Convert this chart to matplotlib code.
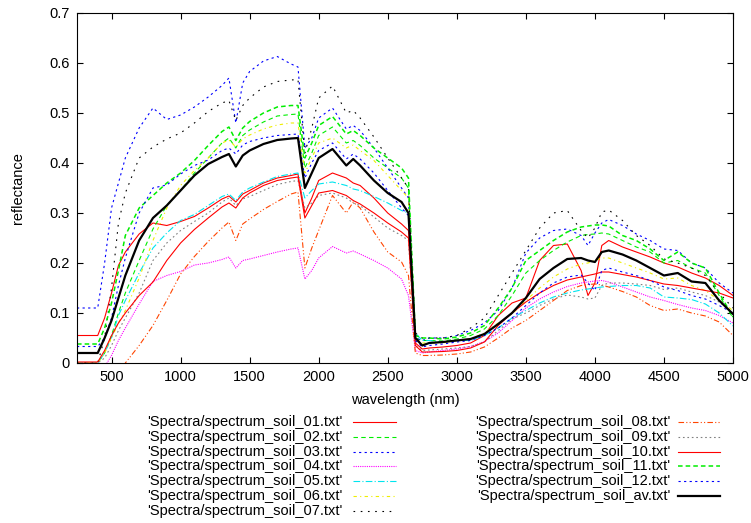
import matplotlib
matplotlib.use("Agg")
import matplotlib.pyplot as plt
from matplotlib.lines import Line2D

plt.rcParams['font.family'] = ['Liberation Sans', 'DejaVu Sans']

wavelength = [250, 400, 450, 500, 550, 600, 700, 800, 900, 1000, 1100, 1200, 1300, 1350, 1400,
              1450, 1500, 1600, 1700, 1800, 1850, 1900, 1950, 2000, 2100, 2200, 2250, 2300, 2400,
              2500, 2600, 2650, 2700, 2750, 2800, 2900, 3000, 3100, 3200, 3300, 3400, 3500, 3600,
              3700, 3800, 3900, 3950, 4000, 4050, 4100, 4200, 4300, 4400, 4500, 4600, 4700, 4800,
              4900, 5000]

soil_01 = [0.055, 0.055, 0.09, 0.14, 0.195, 0.222, 0.258, 0.28, 0.275, 0.283, 0.293, 0.31, 0.328, 0.334, 0.322,
           0.338, 0.345, 0.36, 0.37, 0.375, 0.378, 0.30, 0.33, 0.365, 0.38, 0.37, 0.36, 0.355, 0.33,
           0.30, 0.278, 0.265, 0.04, 0.028, 0.03, 0.032, 0.035, 0.04, 0.055, 0.095, 0.12, 0.13, 0.205,
           0.235, 0.238, 0.185, 0.135, 0.16, 0.235, 0.245, 0.232, 0.222, 0.212, 0.20, 0.192, 0.18, 0.17,
           0.155, 0.135]
soil_02 = [0.0, 0.0, 0.02, 0.055, 0.10, 0.14, 0.205, 0.268, 0.315, 0.345, 0.38, 0.41, 0.44, 0.45, 0.43,
           0.455, 0.466, 0.482, 0.494, 0.497, 0.498, 0.39, 0.42, 0.455, 0.472, 0.44, 0.445, 0.435, 0.41,
           0.39, 0.37, 0.35, 0.05, 0.045, 0.045, 0.044, 0.048, 0.055, 0.068, 0.095, 0.135, 0.18, 0.205,
           0.225, 0.242, 0.255, 0.257, 0.258, 0.26, 0.258, 0.245, 0.232, 0.222, 0.20, 0.205, 0.19, 0.18,
           0.135, 0.09]
soil_03 = [0.11, 0.11, 0.20, 0.31, 0.36, 0.41, 0.47, 0.51, 0.487, 0.496, 0.512, 0.532, 0.555, 0.57, 0.48,
           0.56, 0.583, 0.604, 0.613, 0.598, 0.592, 0.43, 0.45, 0.49, 0.51, 0.468, 0.475, 0.465, 0.43,
           0.39, 0.35, 0.33, 0.05, 0.045, 0.05, 0.05, 0.055, 0.065, 0.08, 0.105, 0.15, 0.22, 0.25,
           0.265, 0.268, 0.255, 0.235, 0.26, 0.28, 0.287, 0.275, 0.258, 0.245, 0.228, 0.225, 0.20, 0.19,
           0.16, 0.14]
soil_04 = [-0.03, -0.03, -0.008, 0.015, 0.045, 0.07, 0.118, 0.163, 0.175, 0.183, 0.196, 0.20, 0.207, 0.212, 0.19,
           0.205, 0.208, 0.215, 0.222, 0.228, 0.23, 0.168, 0.185, 0.21, 0.233, 0.22, 0.224, 0.218, 0.205,
           0.19, 0.168, 0.135, 0.025, 0.02, 0.022, 0.025, 0.028, 0.033, 0.043, 0.06, 0.085, 0.11, 0.128,
           0.142, 0.153, 0.16, 0.162, 0.164, 0.165, 0.162, 0.152, 0.142, 0.132, 0.125, 0.117, 0.11, 0.105,
           0.095, 0.08]
soil_05 = [0.0, 0.0, 0.02, 0.05, 0.095, 0.125, 0.18, 0.23, 0.26, 0.285, 0.297, 0.315, 0.333, 0.338, 0.325,
           0.342, 0.35, 0.362, 0.373, 0.378, 0.38, 0.33, 0.345, 0.358, 0.362, 0.355, 0.348, 0.345, 0.333,
           0.32, 0.305, 0.30, 0.06, 0.045, 0.045, 0.042, 0.045, 0.045, 0.055, 0.07, 0.09, 0.105, 0.12,
           0.132, 0.14, 0.146, 0.148, 0.15, 0.152, 0.153, 0.155, 0.155, 0.15, 0.132, 0.13, 0.127, 0.118,
           0.10, 0.074]
soil_06 = [0.0, 0.0, 0.02, 0.05, 0.08, 0.105, 0.17, 0.245, 0.31, 0.355, 0.385, 0.41, 0.44, 0.446, 0.432,
           0.448, 0.456, 0.468, 0.476, 0.48, 0.48, 0.38, 0.41, 0.44, 0.45, 0.43, 0.436, 0.425, 0.405,
           0.375, 0.345, 0.33, 0.05, 0.04, 0.04, 0.04, 0.045, 0.048, 0.06, 0.08, 0.098, 0.125, 0.15,
           0.172, 0.188, 0.198, 0.20, 0.205, 0.21, 0.21, 0.20, 0.19, 0.18, 0.168, 0.17, 0.155, 0.145,
           0.125, 0.105]
soil_07 = [0.0, 0.0, 0.05, 0.15, 0.28, 0.34, 0.41, 0.432, 0.448, 0.46, 0.48, 0.503, 0.52, 0.525, 0.485,
           0.515, 0.53, 0.552, 0.563, 0.566, 0.567, 0.42, 0.47, 0.53, 0.554, 0.50, 0.505, 0.49, 0.452,
           0.41, 0.37, 0.35, 0.06, 0.05, 0.05, 0.05, 0.055, 0.07, 0.09, 0.135, 0.18, 0.225, 0.27,
           0.30, 0.305, 0.265, 0.25, 0.27, 0.302, 0.306, 0.285, 0.255, 0.235, 0.208, 0.20, 0.19, 0.175,
           0.14, 0.11]
soil_08 = [-0.06, -0.06, -0.045, -0.03, -0.015, 0.0, 0.035, 0.075, 0.125, 0.178, 0.213, 0.243, 0.27, 0.282, 0.245,
           0.278, 0.288, 0.307, 0.323, 0.338, 0.342, 0.19, 0.23, 0.265, 0.335, 0.30, 0.322, 0.31, 0.262,
           0.222, 0.202, 0.175, 0.02, 0.015, 0.015, 0.016, 0.018, 0.022, 0.032, 0.05, 0.07, 0.085, 0.105,
           0.125, 0.145, 0.155, 0.157, 0.158, 0.156, 0.152, 0.143, 0.132, 0.115, 0.105, 0.108, 0.10, 0.094,
           0.082, 0.055]
soil_09 = [0.0, 0.0, 0.01, 0.035, 0.065, 0.09, 0.14, 0.205, 0.24, 0.265, 0.283, 0.30, 0.322, 0.33, 0.315,
           0.328, 0.333, 0.345, 0.357, 0.363, 0.365, 0.31, 0.32, 0.335, 0.34, 0.33, 0.32, 0.315, 0.292,
           0.27, 0.255, 0.245, 0.035, 0.025, 0.026, 0.028, 0.03, 0.033, 0.042, 0.065, 0.088, 0.10, 0.115,
           0.128, 0.136, 0.132, 0.128, 0.13, 0.155, 0.16, 0.16, 0.158, 0.155, 0.147, 0.15, 0.142, 0.135,
           0.122, 0.10]
soil_10 = [0.002, 0.002, 0.025, 0.055, 0.08, 0.10, 0.135, 0.162, 0.205, 0.24, 0.267, 0.29, 0.312, 0.32, 0.31,
           0.33, 0.34, 0.355, 0.365, 0.37, 0.372, 0.29, 0.315, 0.34, 0.345, 0.335, 0.325, 0.318, 0.30,
           0.28, 0.262, 0.25, 0.035, 0.022, 0.022, 0.023, 0.025, 0.03, 0.042, 0.075, 0.10, 0.122, 0.14,
           0.155, 0.166, 0.172, 0.175, 0.178, 0.182, 0.182, 0.177, 0.172, 0.165, 0.158, 0.155, 0.15, 0.145,
           0.14, 0.13]
soil_11 = [0.038, 0.038, 0.07, 0.12, 0.185, 0.255, 0.31, 0.335, 0.36, 0.38, 0.405, 0.435, 0.463, 0.472, 0.445,
           0.47, 0.483, 0.50, 0.512, 0.515, 0.515, 0.41, 0.44, 0.475, 0.493, 0.458, 0.465, 0.455, 0.43,
           0.41, 0.39, 0.37, 0.055, 0.05, 0.05, 0.048, 0.052, 0.06, 0.075, 0.11, 0.15, 0.205, 0.225,
           0.245, 0.262, 0.272, 0.274, 0.276, 0.276, 0.274, 0.255, 0.245, 0.228, 0.205, 0.222, 0.20, 0.19,
           0.14, 0.092]
soil_12 = [0.033, 0.033, 0.05, 0.09, 0.155, 0.21, 0.30, 0.35, 0.356, 0.378, 0.395, 0.406, 0.425, 0.43, 0.418,
           0.436, 0.443, 0.45, 0.455, 0.457, 0.458, 0.37, 0.40, 0.425, 0.44, 0.408, 0.418, 0.408, 0.38,
           0.345, 0.31, 0.295, 0.045, 0.032, 0.035, 0.038, 0.042, 0.045, 0.055, 0.07, 0.09, 0.115, 0.14,
           0.16, 0.172, 0.176, 0.16, 0.145, 0.185, 0.19, 0.182, 0.175, 0.165, 0.152, 0.145, 0.135, 0.128,
           0.115, 0.10]
soil_av = [0.02, 0.02, 0.05, 0.085, 0.13, 0.175, 0.245, 0.29, 0.315, 0.345, 0.375, 0.398, 0.412, 0.418, 0.393,
           0.415, 0.425, 0.438, 0.446, 0.449, 0.45, 0.35, 0.38, 0.41, 0.428, 0.395, 0.408, 0.395, 0.365,
           0.34, 0.322, 0.30, 0.05, 0.035, 0.04, 0.042, 0.045, 0.048, 0.058, 0.078, 0.10, 0.13, 0.168,
           0.19, 0.208, 0.21, 0.205, 0.202, 0.222, 0.225, 0.217, 0.205, 0.19, 0.175, 0.18, 0.163, 0.16,
           0.125, 0.098]

labels = ["'Spectra/spectrum_soil_%s.txt'" % s for s in
          ["01", "02", "03", "04", "05", "06", "07", "08", "09", "10", "11", "12", "av"]]
series = [soil_01, soil_02, soil_03, soil_04, soil_05, soil_06, soil_07,
          soil_08, soil_09, soil_10, soil_11, soil_12, soil_av]

x_ticks = [500, 1000, 1500, 2000, 2500, 3000, 3500, 4000, 4500, 5000]
y_ticks = [0, 0.1, 0.2, 0.3, 0.4, 0.5, 0.6, 0.7]
y_tick_labels = ["0", "0.1", "0.2", "0.3", "0.4", "0.5", "0.6", "0.7"]

styles = [
    dict(color="#ff0000", lw=0.8, ls="-"),
    dict(color="#00ee00", lw=0.8, ls=(0, (4, 3))),
    dict(color="#0000ff", lw=0.8, ls=(0, (2, 3))),
    dict(color="#ff00ff", lw=0.8, ls=(0, (1, 1))),
    dict(color="#00e5ee", lw=0.8, ls=(0, (6, 2, 1, 2))),
    dict(color="#eeee00", lw=0.8, ls=(0, (3, 3, 1, 3))),
    dict(color="#000000", lw=0.8, ls=(0, (1.5, 5))),
    dict(color="#ff4500", lw=0.8, ls=(0, (5, 2, 1, 2, 1, 2))),
    dict(color="#808080", lw=0.8, ls=(0, (1.5, 2.5))),
    dict(color="#ff0000", lw=0.8, ls="-"),
    dict(color="#00ee00", lw=1.1, ls=(0, (3, 2))),
    dict(color="#0000ff", lw=0.8, ls=(0, (2, 3))),
    dict(color="#000000", lw=1.6, ls="-"),
]

W, H = 751, 523
FS = 10.5
fig = plt.figure(figsize=(W / 100, H / 100), dpi=100)
ax = fig.add_axes([77 / W, 1 - 363 / H, (733 - 77) / W, (363 - 13) / H])

for vals, st in zip(series, styles):
    ax.plot(wavelength, vals, color=st["color"], lw=st["lw"], linestyle=st["ls"])

ax.set_xlim(250, 5000)
ax.set_ylim(0, 0.7)
ax.set_xticks(x_ticks)
ax.set_yticks(y_ticks)
ax.set_yticklabels(y_tick_labels)
ax.tick_params(direction="in", length=4.5, width=0.8, top=True, right=True,
               labelsize=FS, colors="black")
ax.tick_params(axis="x", pad=5)
ax.tick_params(axis="y", pad=5)
for sp in ax.spines.values():
    sp.set_linewidth(0.8)

fig.text(405 / W, 1 - 400 / H, "wavelength (nm)", ha="center", va="center", fontsize=FS)
fig.text(18 / W, 1 - 188 / H, "reflectance", ha="center", va="center", rotation=90, fontsize=FS)

row_y = [422.3, 437.0, 451.7, 466.4, 481.1, 495.8, 510.5]
for i in range(13):
    if i < 7:
        tx, x0, x1, y = 343, 353, 396, row_y[i]
    else:
        tx, x0, x1, y = 670, 678, 720, row_y[i - 7]
    fig.text(tx / W, 1 - y / H, labels[i], ha="right", va="center", fontsize=FS)
    st = styles[i]
    fig.add_artist(Line2D([x0 / W, x1 / W], [1 - y / H, 1 - y / H], color=st["color"],
                          lw=st["lw"], linestyle=st["ls"], transform=fig.transFigure))

fig.savefig("out.png", dpi=100)
